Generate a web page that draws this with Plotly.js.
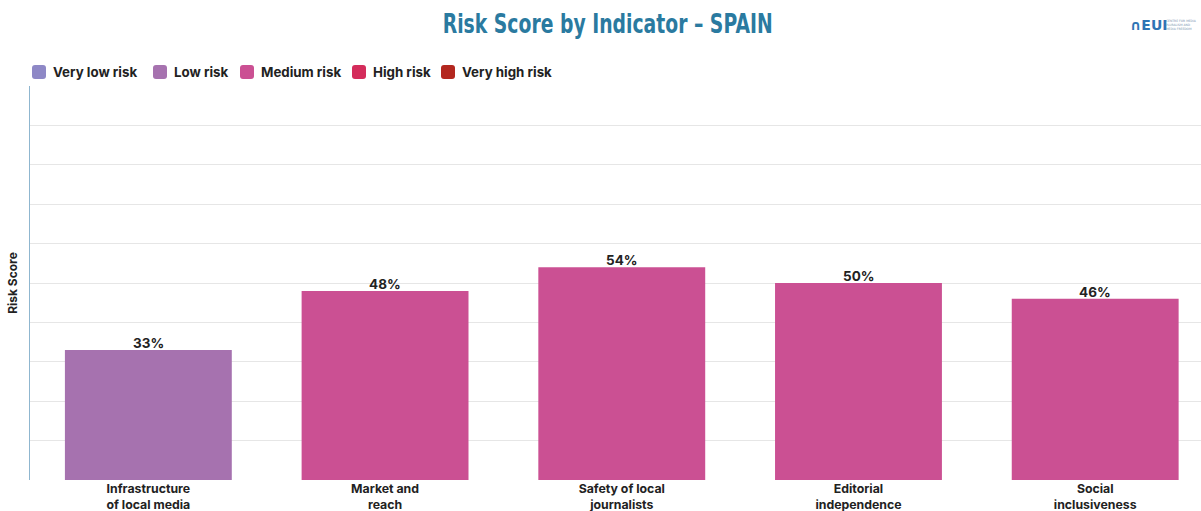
<!DOCTYPE html>
<html><head><meta charset="utf-8">
<script src="https://cdn.plot.ly/plotly-3.0.1.min.js"></script>
<style>html,body{margin:0;padding:0;background:#fff;overflow:hidden}#chart{width:1201px;height:511px}</style>
</head><body><div id="chart"></div>
<script>
const categories = ["Infrastructure<br>of local media","Market and<br>reach","Safety of local<br>journalists","Editorial<br>independence","Social<br>inclusiveness"];
const scores = [33, 48, 54, 50, 46];
const riskLevel = ["Low risk","Medium risk","Medium risk","Medium risk","Medium risk"];
const riskNames = ["Very low risk","Low risk","Medium risk","High risk","Very high risk"];
const riskColors = ["#8E88C6","#A672AF","#CB5093","#D42C5B","#B3271F"];

const traces = riskNames.map((name, i) => ({
  type: "bar",
  name: name,
  x: categories,
  y: scores.map((v, j) => riskLevel[j] === name ? v : null),
  marker: {color: riskColors[i]},
  showlegend: false,
  hoverinfo: "x+y"
}));

const W = 1201, H = 511, mL = 30, mR = 0, mT = 86, mB = 31;
const pw = W - mL - mR, ph = H - mT - mB;
const toPX = px => (px - mL) / pw;
const toPY = py => (H - mB - py) / ph;

const shapes = [];
const annotations = [];

// value labels
scores.forEach((v, j) => {
  annotations.push({
    x: categories[j], y: v, xref: "x", yref: "y", text: "<b>" + v + "%</b>",
    showarrow: false, yanchor: "bottom", yshift: -3,
    font: {family: "Inter, Roboto, sans-serif", size: 13.5, color: "#222"}
  });
});

// custom legend (rounded swatches + labels)
const legendX = [32, 153, 240, 352, 441];
riskNames.forEach((name, i) => {
  const x0 = legendX[i], y0 = 65, s = 14, r = 3;
  const x1 = x0 + s, y1 = y0 + s;
  const X = toPX, Y = toPY;
  const p = `M ${X(x0 + r)},${Y(y0)} L ${X(x1 - r)},${Y(y0)} Q ${X(x1)},${Y(y0)} ${X(x1)},${Y(y0 + r)} L ${X(x1)},${Y(y1 - r)} Q ${X(x1)},${Y(y1)} ${X(x1 - r)},${Y(y1)} L ${X(x0 + r)},${Y(y1)} Q ${X(x0)},${Y(y1)} ${X(x0)},${Y(y1 - r)} L ${X(x0)},${Y(y0 + r)} Q ${X(x0)},${Y(y0)} ${X(x0 + r)},${Y(y0)} Z`;
  shapes.push({type: "path", xref: "paper", yref: "paper", path: p, line: {width: 0}, fillcolor: riskColors[i], layer: "above"});
  annotations.push({
    text: "<b>" + name + "</b>", showarrow: false, xref: "paper", yref: "paper",
    xanchor: "left", yanchor: "middle",
    x: toPX(x0 + s + 5), y: toPY(y0 + s / 2),
    font: {family: "Inter, Roboto, sans-serif", size: 13.3, color: "#222"}
  });
});

// logo
annotations.push({
  text: "<b>∩EUI</b>", showarrow: false, xref: "paper", yref: "paper",
  x: toPX(1128), y: toPY(25), xanchor: "left", yanchor: "middle",
  font: {family: "DejaVu Sans, sans-serif", size: 14, color: "#2F74B5"}
});
annotations.push({
  text: "CENTRE FOR MEDIA<br>PLURALISM AND<br>MEDIA FREEDOM", showarrow: false, xref: "paper", yref: "paper",
  x: toPX(1164), y: toPY(25), xanchor: "left", yanchor: "middle", align: "left",
  font: {family: "DejaVu Sans, sans-serif", size: 3, color: "#7a93b0"}
});

const layout = {
  width: W, height: H,
  margin: {l: mL, r: mR, t: mT, b: mB, pad: 0},
  paper_bgcolor: "#fff", plot_bgcolor: "#fff",
  barmode: "overlay",
  bargap: 0.295,
  title: {
    text: "<b>Risk Score by Indicator – SPAIN</b>",
    x: 0.506, xanchor: "center", y: 1 - 24 / H, yanchor: "middle",
    font: {family: "DejaVu Sans, sans-serif", size: 27, color: "#2A7AA0"}
  },
  xaxis: {
    type: "category",
    range: [-0.5, 4.447],
    showgrid: false, zeroline: false, showline: false,
    ticks: "", ticklen: 0,
    tickfont: {family: "Inter, Roboto, sans-serif", size: 12.3, color: "#222", weight: 700},
    fixedrange: true
  },
  yaxis: {
    range: [0, 100], dtick: 10,
    showticklabels: false,
    showgrid: true, gridcolor: "#e6e6e6", gridwidth: 1,
    zeroline: false,
    showline: true, linecolor: "#8FB6CF", linewidth: 1.5,
    title: {text: "<b>Risk Score</b>", standoff: 8, font: {family: "Inter, Roboto, sans-serif", size: 12, color: "#222"}},
    fixedrange: true
  },
  shapes: shapes,
  annotations: annotations,
  showlegend: false
};

Plotly.newPlot("chart", traces, layout, {displayModeBar: false, staticPlot: true}).then(gd => {
  // condense the title to the reference's narrow typeface width
  const t = gd.querySelector(".gtitle");
  if (t) {
    t.setAttribute("textLength", "330");
    t.setAttribute("lengthAdjust", "spacingAndGlyphs");
  }
});
</script>
</body></html>
